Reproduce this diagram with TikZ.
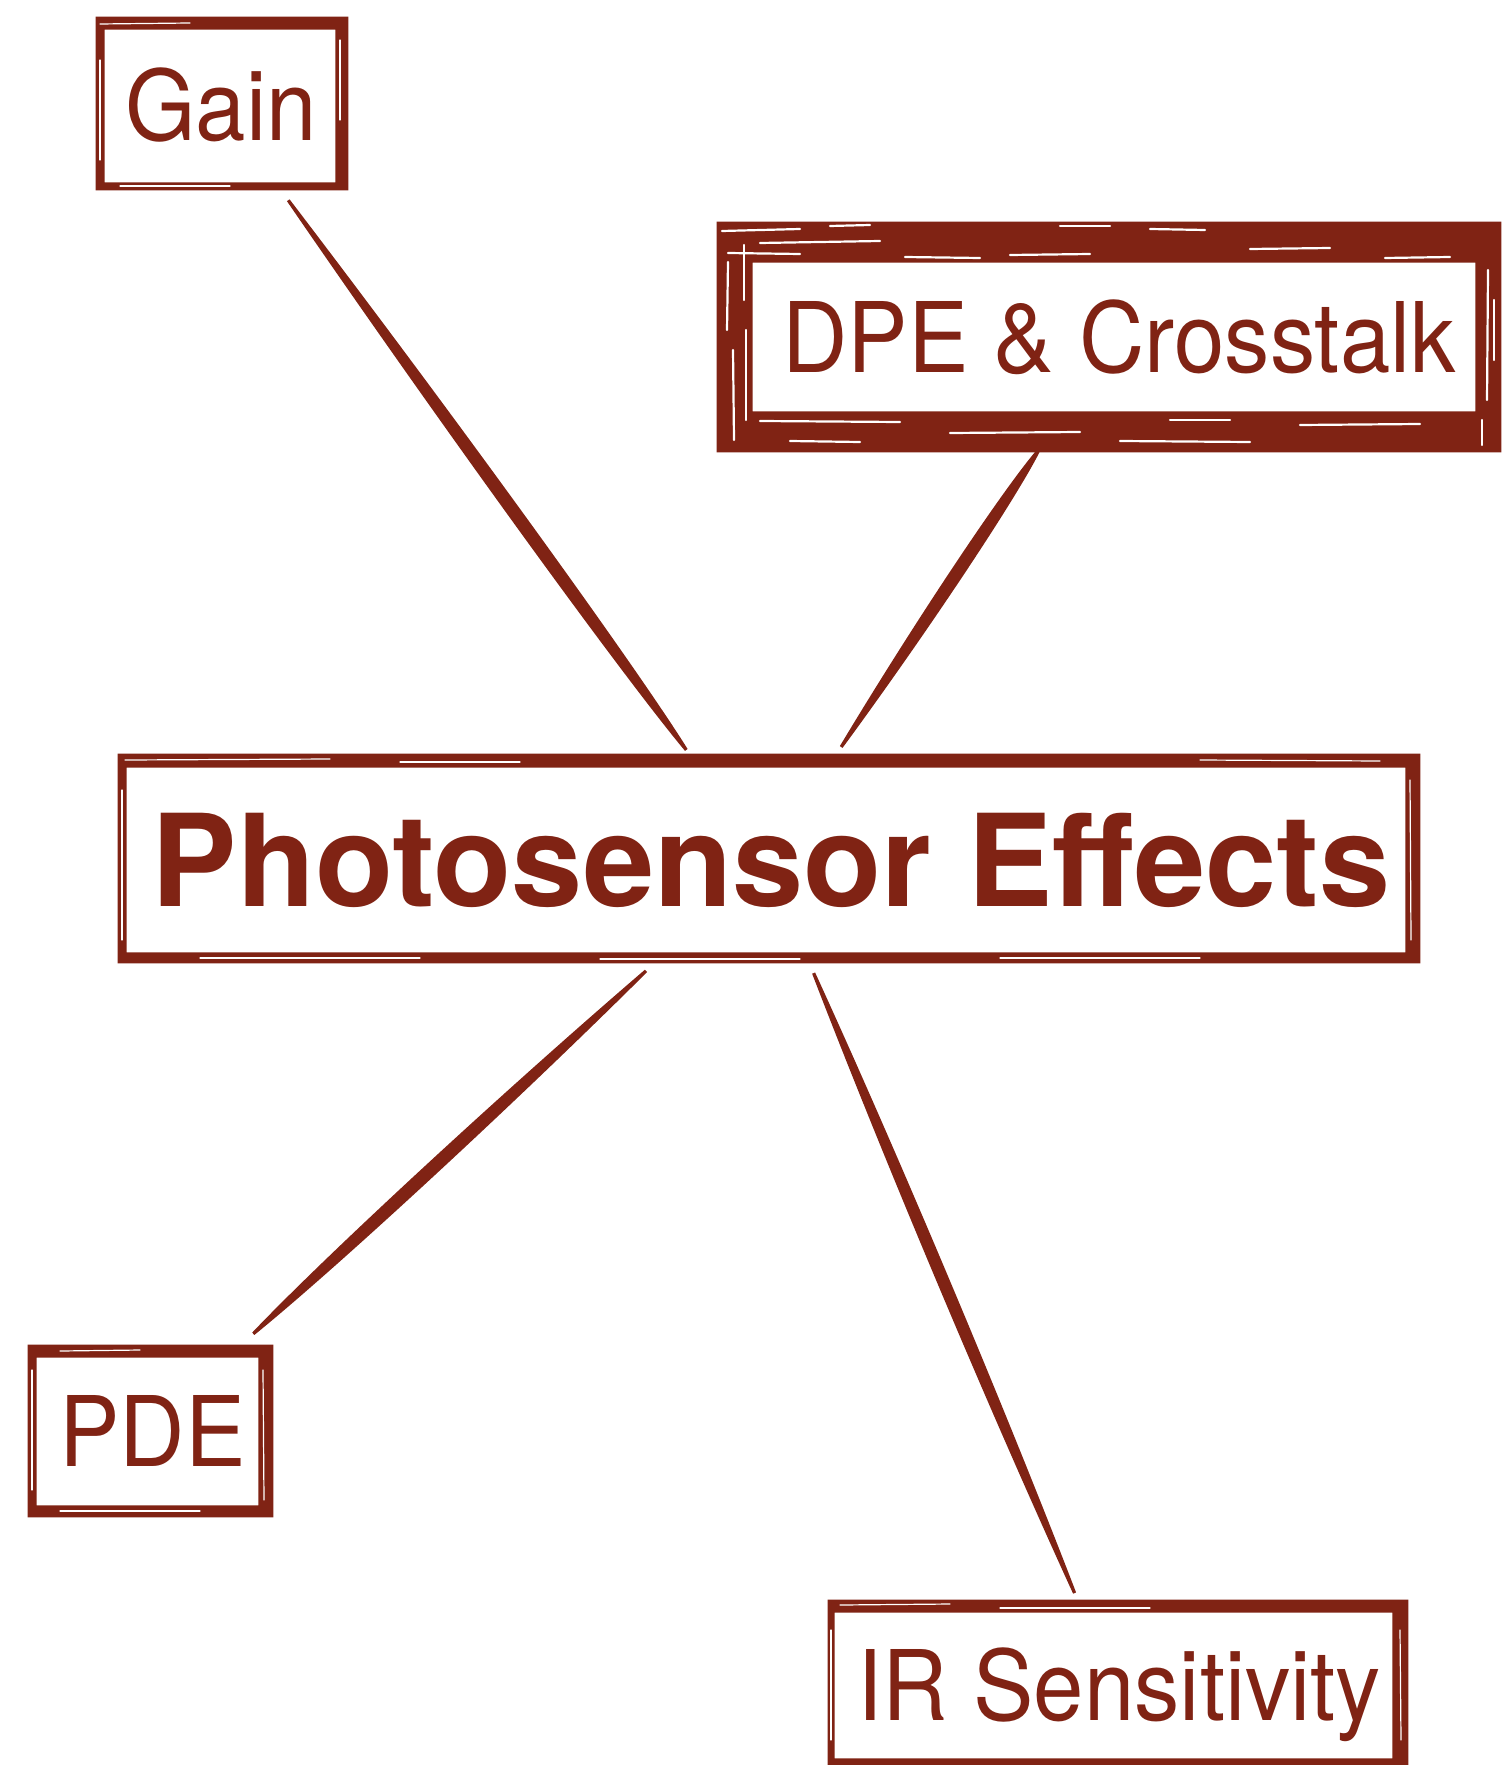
\documentclass[tikz,border=0pt]{standalone}
\usepackage{fontspec}
\setmainfont{TeX Gyre Heros}
\newfontfamily\labfont[FakeStretch=0.93]{TeX Gyre Heros}
\usetikzlibrary{calc}
\definecolor{ink}{RGB}{128,35,20}
% frame around a node: name, left, top, right, bottom (px)
\newcommand\grframe[5]{%
  \fill[ink, even odd rule] ([shift={(-#2,-#3)}]#1.north west) rectangle ([shift={(#4,#5)}]#1.south east)
        (#1.north west) rectangle (#1.south east);}
% tapered brush connector: from node a to node b, fractions t0,t1, control offset, m1, m2
\newcommand\brushline[7]{%
  \coordinate (bs) at ($(#1.center)!#3!(#2.center)$);
  \coordinate (be) at ($(#1.center)!#4!(#2.center)$);
  \coordinate (bm1) at ($(bs)!#6!(be)$);
  \coordinate (bm2) at ($(bs)!#7!(be)$);
  \fill[ink] ($(bs)!0.8pt!90:(be)$) .. controls ($(bm1)!#5!90:(be)$) and ($(bm2)!#5!90:(be)$)
     .. ($(be)!0.8pt!-90:(bs)$) -- ($(be)!0.8pt!90:(bs)$)
     .. controls ($(bm2)!#5!-90:(be)$) and ($(bm1)!#5!-90:(be)$) .. ($(bs)!0.8pt!-90:(be)$) -- cycle;}
\begin{document}
\begin{tikzpicture}[x=0.5pt,y=-0.5pt,
  lab/.style={inner sep=0pt, text=ink, font=\labfont\fontsize{48.7}{58}\selectfont,
              text height=35pt, text depth=0pt},
  ttl/.style={inner sep=0pt, text=ink, font=\bfseries\fontsize{64}{76}\selectfont,
              text height=46pt, text depth=0pt},
  streak/.style={white, line width=1.1pt, line cap=round},
  thinstreak/.style={white, line width=0.6pt, line cap=round}]
\useasboundingbox (0,0) rectangle (1501,1765);

% nodes (inner white areas of the frames)
\node[lab, minimum width=115pt, minimum height=76pt] (gain) at (220,106) {\hspace*{1pt}Gain};
\node[lab, minimum width=361pt, minimum height=74pt] (dpe) at (1114,337) {\hspace*{5pt}DPE \& Crosstalk};
\node[ttl, minimum width=639pt, minimum height=92pt] (ps) at (766,860) {\hspace*{5pt}Photosensor Effects};
\node[lab, minimum width=110.5pt, minimum height=73.5pt] (pde) at (147.5,1431.5) {\hspace*{5pt}PDE};
\node[lab, minimum width=278.5pt, minimum height=72.5pt] (ir) at (1113.5,1685.5) {\hspace*{6pt}IR Sensitivity};

% frames
\grframe{gain}{9}{13}{13}{8}
\grframe{dpe}{36}{41}{26}{41}
\grframe{ps}{9}{14}{15}{11}
\grframe{pde}{9}{13}{15}{12}
\grframe{ir}{7}{13}{16}{10}

% brush texture on the frames
\draw[streak] (722,231) -- (800,229);  \draw[streak] (760,243) -- (880,241);
\draw[streak] (728,253) -- (800,254);  \draw[streak] (905,257) -- (980,258);
\draw[streak] (1010,255) -- (1090,254); \draw[streak] (1150,229) -- (1205,230);
\draw[streak] (1250,249) -- (1330,248); \draw[streak] (1385,258) -- (1450,257);
\draw[streak] (1060,226) -- (1110,226); \draw[streak] (830,226) -- (870,225);
\draw[streak] (728,262) -- (727,330);  \draw[streak] (733,350) -- (734,440);
\draw[streak] (744,245) -- (744,300);  \draw[streak] (746,330) -- (746,420);
\draw[streak] (760,421) -- (900,422);  \draw[streak] (950,433) -- (1080,432);
\draw[streak] (1120,441) -- (1250,442); \draw[streak] (790,441) -- (860,442);
\draw[streak] (1300,425) -- (1420,424); \draw[streak] (1170,420) -- (1230,420);
\draw[streak] (1488,270) -- (1487,400); \draw[streak] (1494,300) -- (1494,360);
\draw[streak] (1482,420) -- (1482,445);
\draw[thinstreak] (100,24) -- (190,23);  \draw[thinstreak] (340,40) -- (340,120);
\draw[thinstreak] (100,60) -- (100,160); \draw[thinstreak] (120,186) -- (230,186);
\draw[thinstreak] (125,760) -- (330,759); \draw[thinstreak] (400,762) -- (520,762);
\draw[thinstreak] (122,790) -- (122,940); \draw[thinstreak] (200,958) -- (420,958);
\draw[thinstreak] (600,959) -- (800,959); \draw[thinstreak] (1000,958) -- (1200,958);
\draw[thinstreak] (1410,780) -- (1411,940); \draw[thinstreak] (1200,760) -- (1380,761);
\draw[thinstreak] (32,1370) -- (32,1490); \draw[thinstreak] (60,1351) -- (140,1350);
\draw[thinstreak] (263,1370) -- (264,1500); \draw[thinstreak] (60,1511) -- (200,1511);
\draw[thinstreak] (840,1605) -- (950,1604); \draw[thinstreak] (1000,1608) -- (1150,1608);
\draw[thinstreak] (831,1630) -- (831,1740); \draw[thinstreak] (1400,1630) -- (1401,1740);

% connectors
\brushline{gain}{ps}{0.125}{0.854}{4.2pt}{0.4}{0.85}
\brushline{dpe}{ps}{0.216}{0.784}{4.1pt}{0.15}{0.6}
\brushline{ps}{pde}{0.194}{0.829}{4.2pt}{0.35}{0.8}
\brushline{ps}{ir}{0.137}{0.888}{3.9pt}{0.3}{0.7}
\end{tikzpicture}
\end{document}
